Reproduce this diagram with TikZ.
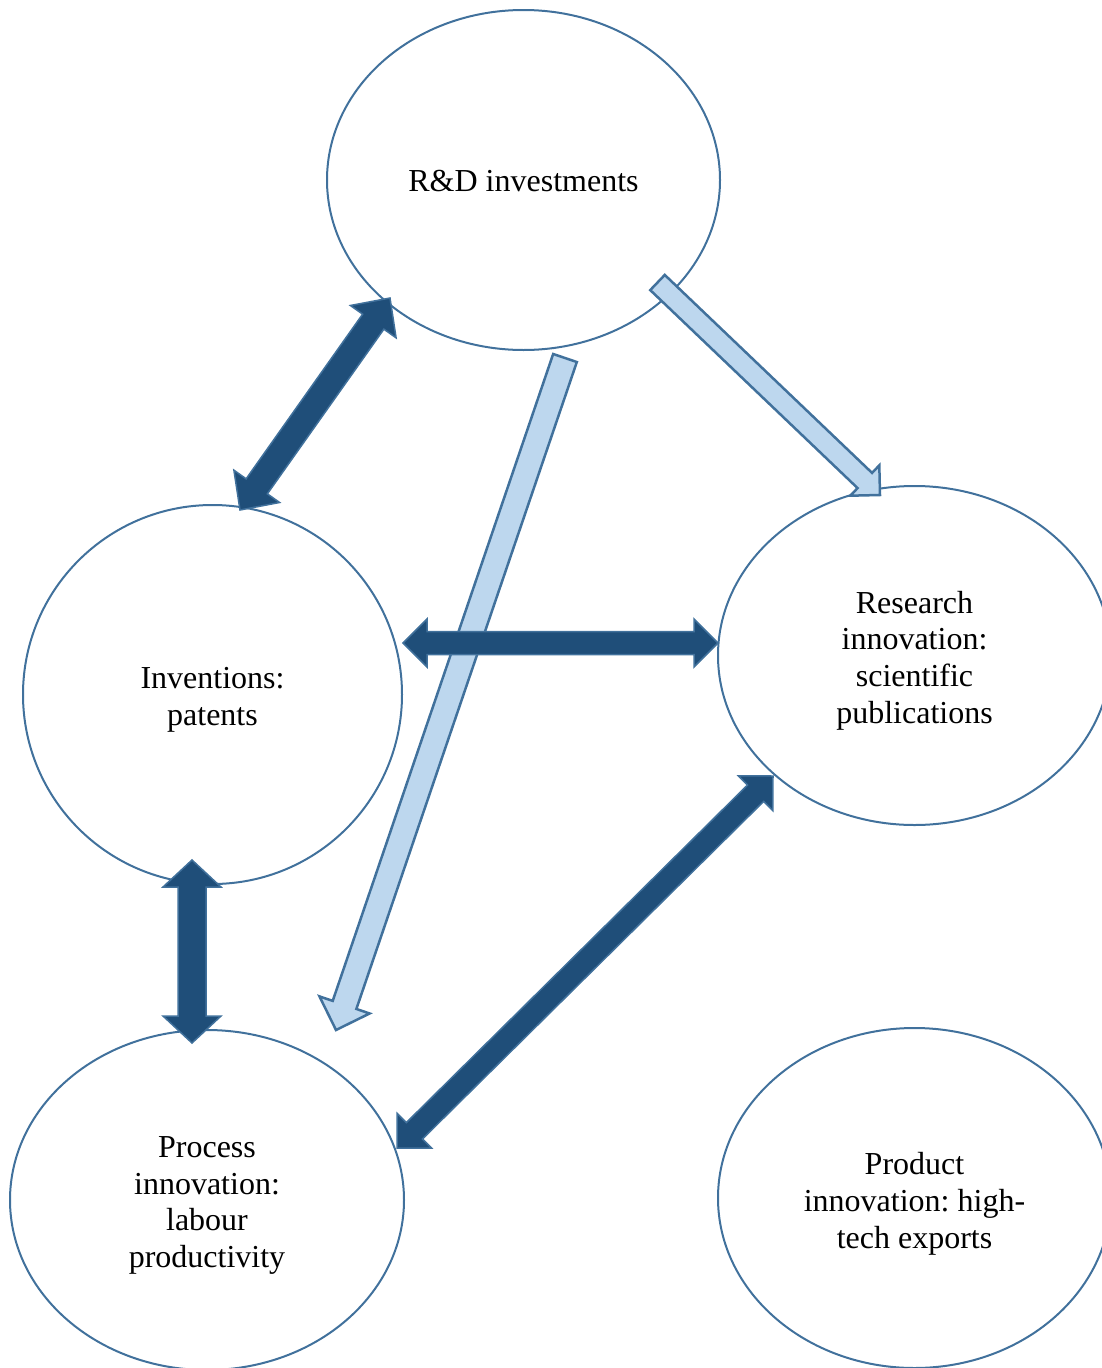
\documentclass[tikz,border=0pt]{standalone}
\usepackage{fontspec}
\setmainfont{Liberation Serif}
\usetikzlibrary{shapes.geometric,calc}
\frenchspacing

\definecolor{edgeblue}{HTML}{41719C}
\definecolor{darkfill}{HTML}{1F4E79}
\definecolor{lightfill}{HTML}{BDD7EE}

\tikzset{
  bubble/.style={ellipse, draw=edgeblue, line width=2pt, inner sep=0pt},
  bubtext/.style={align=center, inner sep=0pt, font=\fontsize{32}{36.8}\selectfont},
  darkarrow/.style={fill=darkfill, draw=edgeblue, line width=1.5pt, line join=miter},
  lightarrow/.style={fill=lightfill, draw=edgeblue, line width=2.5pt, line join=miter},
}

% block arrow with one head: style, tail, tip, shaft half-width, head half-width, head length
\newcommand\singleblock[6]{%
  \coordinate (sb-neck) at ($(#3)!#6!(#2)$);
  \draw[#1] ($(#2)!#4!90:(#3)$) -- ($(sb-neck)!#4!90:(#3)$) -- ($(sb-neck)!#5!90:(#3)$)
    -- (#3) -- ($(sb-neck)!#5!-90:(#3)$) -- ($(sb-neck)!#4!-90:(#3)$)
    -- ($(#2)!#4!-90:(#3)$) -- cycle;
}

% block arrow with two heads: style, end A, end B, shaft half-width, head half-width, head length
\newcommand\doubleblock[6]{%
  \coordinate (db-na) at ($(#2)!#6!(#3)$);
  \coordinate (db-nb) at ($(#3)!#6!(#2)$);
  \draw[#1] (#2) -- ($(db-na)!#5!90:(#3)$) -- ($(db-na)!#4!90:(#3)$)
    -- ($(db-nb)!#4!90:(#3)$) -- ($(db-nb)!#5!90:(#3)$) -- (#3)
    -- ($(db-nb)!#5!-90:(#3)$) -- ($(db-nb)!#4!-90:(#3)$)
    -- ($(db-na)!#4!-90:(#3)$) -- ($(db-na)!#5!-90:(#3)$) -- cycle;
}

\begin{document}
\begin{tikzpicture}[x=1pt,y=-1pt]
  \useasboundingbox (0,0) rectangle (1102,1368);
  \clip (0,0) rectangle (1102,1368);

  % the five concepts
  \node[bubble, minimum width=393pt, minimum height=340pt,
        label={[bubtext, yshift=-1.5pt]center:R\&D investments}] (rd) at (523.5,180) {};
  \node[bubble, minimum width=379pt, minimum height=379pt,
        label={[bubtext, yshift=-5pt]center:Inventions:\\patents}] (inv) at (212.5,694.5) {};
  \node[bubble, minimum width=393pt, minimum height=339pt,
        label={[bubtext, yshift=-5pt]center:Research\\innovation:\\scientific\\publications}] (res) at (914.5,655.5) {};
  \node[bubble, minimum width=394pt, minimum height=340pt,
        label={[bubtext, yshift=-5.5pt]center:Process\\innovation:\\labour\\productivity}] (proc) at (207,1200) {};
  \node[bubble, minimum width=393pt, minimum height=340pt,
        label={[bubtext, yshift=-5.5pt]center:Product\\innovation: high-\\tech exports}] (prod) at (914.5,1198) {};

  % arrow end points
  \coordinate (rd-res-a)   at (657.5,282.5);
  \coordinate (rd-res-b)   at (880,495);
  \coordinate (rd-proc-a)  at (565,358);
  \coordinate (rd-proc-b)  at (336,1030);
  \coordinate (rd-inv-a)   at (390,298);
  \coordinate (rd-inv-b)   at (240,510);
  \coordinate (inv-res-a)  at (403,643);
  \coordinate (inv-res-b)  at (718,643);
  \coordinate (inv-proc-a) at (192,860);
  \coordinate (inv-proc-b) at (192,1043);
  \coordinate (res-proc-a) at (773,776);
  \coordinate (res-proc-b) at (397,1148);

  % one-way effects of R&D
  \singleblock{lightarrow}{rd-res-a}{rd-res-b}{10.5pt}{21pt}{21pt}
  \singleblock{lightarrow}{rd-proc-a}{rd-proc-b}{12.5pt}{26.5pt}{26.5pt}

  % two-way links
  \doubleblock{darkarrow}{rd-inv-a}{rd-inv-b}{13pt}{28pt}{29pt}
  \doubleblock{darkarrow}{inv-res-a}{inv-res-b}{11.5pt}{24pt}{24pt}
  \doubleblock{darkarrow}{inv-proc-a}{inv-proc-b}{14pt}{29pt}{27pt}
  \doubleblock{darkarrow}{res-proc-a}{res-proc-b}{11.5pt}{24.5pt}{24.5pt}
\end{tikzpicture}
\end{document}
